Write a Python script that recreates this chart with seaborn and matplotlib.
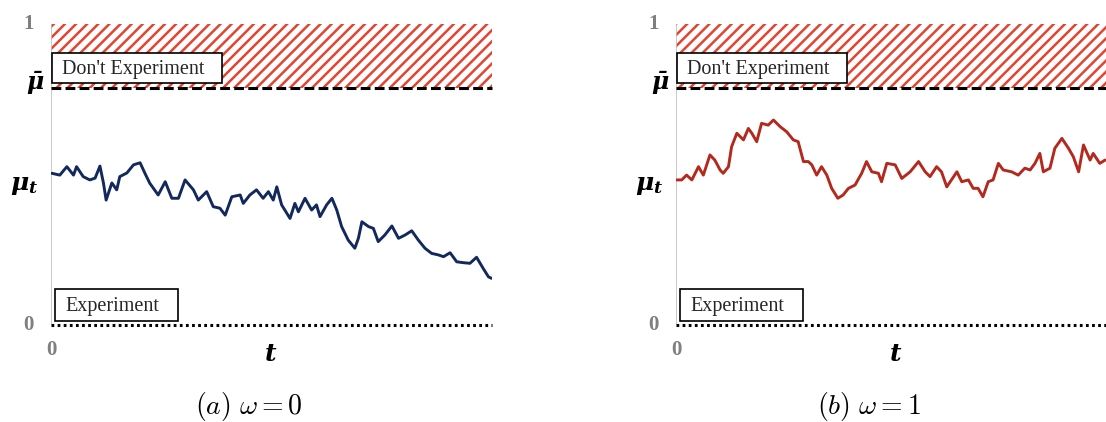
import matplotlib
matplotlib.use("Agg")
import matplotlib.pyplot as plt
from matplotlib.patches import Rectangle
import seaborn as sns
import pandas as pd

# ---------------- data ----------------
mu_bar = 0.787

t_a = [0.002, 0.020, 0.036, 0.051, 0.058, 0.073, 0.088, 0.100, 0.111, 0.119, 0.125, 0.138,
       0.149, 0.156, 0.172, 0.187, 0.202, 0.213, 0.224, 0.243, 0.259, 0.274, 0.289, 0.304,
       0.323, 0.334, 0.353, 0.368, 0.383, 0.395, 0.410, 0.429, 0.436, 0.451, 0.466, 0.481,
       0.493, 0.504, 0.512, 0.523, 0.542, 0.553, 0.561, 0.576, 0.591, 0.602, 0.610, 0.625,
       0.637, 0.648, 0.659, 0.674, 0.689, 0.697, 0.705, 0.720, 0.731, 0.742, 0.757, 0.773,
       0.788, 0.803, 0.818, 0.833, 0.848, 0.863, 0.878, 0.890, 0.905, 0.920, 0.935, 0.950,
       0.965, 0.980, 0.992, 0.999]
mu_a = [0.504, 0.498, 0.526, 0.498, 0.526, 0.493, 0.482, 0.488, 0.528, 0.471, 0.415, 0.472,
        0.449, 0.493, 0.505, 0.532, 0.539, 0.504, 0.471, 0.432, 0.476, 0.421, 0.421, 0.482,
        0.449, 0.415, 0.443, 0.393, 0.388, 0.365, 0.426, 0.432, 0.404, 0.432, 0.449, 0.421,
        0.443, 0.415, 0.459, 0.399, 0.354, 0.404, 0.376, 0.421, 0.382, 0.399, 0.360, 0.399,
        0.421, 0.382, 0.327, 0.282, 0.255, 0.288, 0.343, 0.327, 0.321, 0.277, 0.299, 0.329,
        0.288, 0.299, 0.313, 0.282, 0.255, 0.238, 0.233, 0.227, 0.240, 0.210, 0.207, 0.205,
        0.225, 0.188, 0.160, 0.155]

t_b = [0.002, 0.013, 0.024, 0.036, 0.051, 0.062, 0.077, 0.088, 0.100, 0.107, 0.119, 0.126,
       0.138, 0.153, 0.164, 0.172, 0.183, 0.194, 0.209, 0.221, 0.236, 0.251, 0.266, 0.277,
       0.289, 0.300, 0.308, 0.319, 0.330, 0.342, 0.353, 0.367, 0.379, 0.391, 0.406, 0.421,
       0.432, 0.444, 0.459, 0.466, 0.478, 0.497, 0.512, 0.531, 0.550, 0.565, 0.576, 0.591,
       0.602, 0.614, 0.637, 0.648, 0.663, 0.674, 0.685, 0.696, 0.708, 0.719, 0.731, 0.742,
       0.761, 0.776, 0.791, 0.803, 0.814, 0.825, 0.833, 0.848, 0.859, 0.875, 0.890, 0.901,
       0.913, 0.924, 0.939, 0.946, 0.961, 0.973]
mu_b = [0.482, 0.482, 0.498, 0.482, 0.526, 0.498, 0.565, 0.548, 0.515, 0.504, 0.526, 0.592,
        0.637, 0.615, 0.653, 0.637, 0.609, 0.670, 0.664, 0.681, 0.659, 0.642, 0.615, 0.609,
        0.543, 0.543, 0.532, 0.498, 0.526, 0.498, 0.454, 0.421, 0.432, 0.454, 0.465, 0.504,
        0.543, 0.509, 0.504, 0.476, 0.537, 0.532, 0.487, 0.509, 0.543, 0.509, 0.493, 0.526,
        0.509, 0.459, 0.509, 0.476, 0.482, 0.454, 0.454, 0.426, 0.476, 0.482, 0.537, 0.515,
        0.509, 0.498, 0.521, 0.515, 0.537, 0.570, 0.509, 0.521, 0.587, 0.620, 0.587, 0.559,
        0.509, 0.598, 0.548, 0.570, 0.537, 0.548]

captions = [r"$\mathit{(a)}\ \omega = 0$", r"$\mathit{(b)}\ \omega = 1$"]
caption_x = [0.449, 0.438]
colors = ["#13295e", "#b3291d"]
hatch_red = "#e5432f"
gray = "#7f7f7f"

# ---------------- style ----------------
sns.set_theme(style="white")
plt.rcParams["font.family"] = ["Liberation Serif", "DejaVu Serif"]
plt.rcParams["mathtext.fontset"] = "cm"
plt.rcParams["mathtext.bf"] = "DejaVu Serif:bold:italic"
plt.rcParams["mathtext.rm"] = "DejaVu Serif:bold:italic"
plt.rcParams["mathtext.it"] = "DejaVu Serif:bold:italic"
plt.rcParams["hatch.linewidth"] = 1.8

fig = plt.figure(figsize=(11.06, 4.22), dpi=100)
W, H = 1106, 422
ax_w = 441 / W
ax_b = (H - 325) / H
ax_h = 301 / H
axes = [fig.add_axes([51 / W, ax_b, ax_w, ax_h]),
        fig.add_axes([676 / W, ax_b, ax_w, ax_h])]

series = [(t_a, mu_a), (t_b, mu_b)]
for i, ax in enumerate(axes):
    t, mu = series[i]
    df = pd.DataFrame({"t": t, "mu": mu})
    ax.set_xlim(0, 1)
    ax.set_ylim(0, 1)
    for s in ax.spines.values():
        s.set_visible(False)
    ax.set_xticks([])
    ax.set_yticks([])
    ax.patch.set_alpha(0)

    # hatched "don't experiment" region
    ax.axhspan(mu_bar, 1, facecolor="white", edgecolor=hatch_red, hatch="///", lw=0, zorder=1)
    # vertical axis
    ax.axvline(0, color="#c0c0c0", lw=1.2, zorder=1)
    # thresholds
    ax.axhline(mu_bar, color="black", lw=2.2, ls=(0, (3.2, 1.4)), zorder=3, clip_on=False)
    ax.axhline(0, color="black", lw=2.2, ls=(0, (0.9, 1.1)), zorder=3, clip_on=False)

    sns.lineplot(data=df, x="t", y="mu", ax=ax, color=colors[i], lw=2.1, zorder=4)
    ax.set_xlabel("")
    ax.set_ylabel("")

    # label boxes
    ax.add_patch(Rectangle((0.002, 0.803), 0.386, 0.10, facecolor="white",
                           edgecolor="black", lw=1.2, zorder=5))
    ax.text(0.025, 0.850, "Don't Experiment", fontsize=14.5, va="center", ha="left", zorder=6)
    ax.add_patch(Rectangle((0.009, 0.013), 0.279, 0.106, facecolor="white",
                           edgecolor="black", lw=1.2, zorder=5))
    ax.text(0.032, 0.063, "Experiment", fontsize=14.5, va="center", ha="left", zorder=6)

    # y labels
    yt = ax.get_yaxis_transform()
    ax.text(-0.052, 1.0, "1", transform=yt, ha="center", va="center", fontsize=15,
            fontweight="bold", color=gray)
    ax.text(-0.052, 0.0, "0", transform=yt, ha="center", va="center", fontsize=15,
            fontweight="bold", color=gray)
    ax.text(-0.036, mu_bar + 0.015, r"$\mathbf{\bar{\mu}}$", transform=yt, ha="center",
            va="center", fontsize=17, color="black", math_fontfamily="custom")
    ax.text(-0.060, 0.462, r"$\mathbf{\mu_t}$", transform=yt, ha="center",
            va="center", fontsize=18, color="black", math_fontfamily="custom")

    # x labels
    xt = ax.get_xaxis_transform()
    ax.text(0.0, -0.083, "0", transform=xt, ha="center", va="center", fontsize=15,
            fontweight="bold", color=gray)
    ax.text(0.497, -0.10, r"$\mathbf{t}$", transform=xt, ha="center", va="center",
            fontsize=18, color="black", math_fontfamily="custom")
    ax.text(caption_x[i], -0.272, captions[i], transform=xt, ha="center", va="center",
            fontsize=20, color="black")

fig.savefig("out.png", dpi=100)
